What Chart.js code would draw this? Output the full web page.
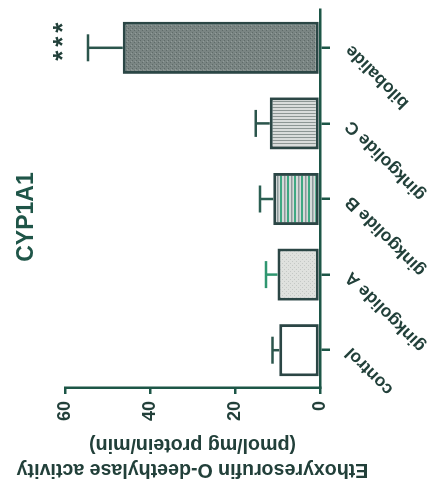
<!DOCTYPE html>
<html>
<head>
<meta charset="utf-8">
<script src="https://cdn.jsdelivr.net/npm/chart.js@4.4.1/dist/chart.umd.min.js"></script>
<style>
  html, body { margin: 0; padding: 0; background: #ffffff; overflow: hidden; }
  #wrap { position: relative; width: 435px; height: 486px; overflow: hidden; }
  /* the figure is laid out upright and turned a quarter turn counter-clockwise */
  #c { position: absolute; left: 0; top: 0; width: 486px; height: 435px;
       transform-origin: 0 0; transform: translateY(486px) rotate(-90deg); }
</style>
</head>
<body>
<div id="wrap"><canvas id="c" width="486" height="435"></canvas></div>
<script>
// EROD activity per treatment (mean and SEM, pmol/mg protein/min)
const categories = ['control', 'ginkgolide A', 'ginkgolide B', 'ginkgolide C', 'bilobalide'];
const activity = [9.6, 10.0, 11.0, 11.8, 46.4];
const activitySem = [1.6, 2.7, 3.1, 3.3, 8.2];
const significance = ['', '', '', '', '***'];
const valueTicks = [0, 20, 40, 60];
const chartTitle = 'CYP1A1';
const axisTitle = ['Ethoxyresorufin O-deethylase activity', '(pmol/mg protein/min)'];

const TEXT = '#22403a';
const AXIS = '#1d5647';
const EDGE = '#2b4645';

function tile(w, h, paint) {
  const t = document.createElement('canvas');
  t.width = w; t.height = h;
  const g = t.getContext('2d');
  paint(g);
  return g.createPattern(t, 'repeat');
}
// fine stipple for ginkgolide A
const stippleLight = tile(4, 4, g => {
  g.fillStyle = '#dfe1de'; g.fillRect(0, 0, 4, 4);
  g.fillStyle = '#c4c8c5'; g.fillRect(0, 0, 1, 1); g.fillRect(2, 2, 1, 1);
});
// close horizontal bands (green / grey) for ginkgolide B
const bandsB = tile(7, 7, g => {
  g.fillStyle = '#d6dad9'; g.fillRect(0, 0, 7, 7);
  g.fillStyle = '#3fa882'; g.fillRect(0, 0, 7, 2);
  g.fillStyle = '#8e9a9b'; g.fillRect(0, 4, 7, 1.5);
});
// fine vertical hatching for ginkgolide C
const hatchC = tile(3, 3, g => {
  g.fillStyle = '#d9dcdb'; g.fillRect(0, 0, 3, 3);
  g.fillStyle = '#8d9694'; g.fillRect(0, 0, 1, 3);
});
// dark stipple for bilobalide
const stippleDark = tile(4, 4, g => {
  g.fillStyle = '#7a8583'; g.fillRect(0, 0, 4, 4);
  g.fillStyle = '#5f6b69'; g.fillRect(1, 0, 1, 1); g.fillRect(3, 2, 1, 1);
  g.fillStyle = '#929c9a'; g.fillRect(0, 3, 1, 1);
});
const barFills = ['#ffffff', stippleLight, bandsB, hatchC, stippleDark];
const errorColors = ['#2b554c', '#2f9670', '#2b5f52', '#2b554c', '#2b554c'];

const errorBars = {
  id: 'errorBars',
  afterDatasetsDraw(chart) {
    const { ctx, scales: { y } } = chart;
    const meta = chart.getDatasetMeta(0);
    ctx.save();
    ctx.lineWidth = 2.5;
    meta.data.forEach((bar, i) => {
      const top = y.getPixelForValue(activity[i] + activitySem[i]);
      ctx.strokeStyle = errorColors[i];
      ctx.beginPath();
      ctx.moveTo(bar.x, bar.y);
      ctx.lineTo(bar.x, top);
      ctx.moveTo(bar.x - 13.5, top);
      ctx.lineTo(bar.x + 13.5, top);
      ctx.stroke();
      if (significance[i]) {
        ctx.fillStyle = TEXT;
        ctx.font = 'bold 26px "Liberation Sans", Arial, sans-serif';
        ctx.textAlign = 'center';
        ctx.textBaseline = 'alphabetic';
        const marks = significance[i].split('');
        marks.forEach((m, k) => {
          const mx = bar.x + 6 + (k - (marks.length - 1) / 2) * 14;
          ctx.fillText(m, mx, top - 33 + 16);
        });
      }
    });
    ctx.restore();
  }
};

const panelTitle = {
  id: 'panelTitle',
  afterDraw(chart) {
    const { ctx } = chart;
    ctx.save();
    ctx.fillStyle = '#1f5548';
    ctx.font = 'bold 23px "Liberation Sans", Arial, sans-serif';
    ctx.textAlign = 'center';
    ctx.textBaseline = 'middle';
    ctx.fillText(chartTitle, 269, 27);
    ctx.restore();
  }
};

Chart.defaults.font.family = '"Liberation Sans", Arial, sans-serif';
Chart.defaults.color = TEXT;

new Chart(document.getElementById('c'), {
  type: 'bar',
  data: {
    labels: categories,
    datasets: [{
      data: activity,
      backgroundColor: barFills,
      borderColor: EDGE,
      borderWidth: 3,
      borderSkipped: false,
      barPercentage: 0.69,
      categoryPercentage: 1.0
    }]
  },
  options: {
    responsive: false,
    animation: false,
    devicePixelRatio: 1,
    layout: { padding: { top: 65, right: 10, left: 0, bottom: 0 } },
    plugins: { legend: { display: false }, tooltip: { enabled: false } },
    scales: {
      x: {
        offset: true,
        grid: { display: true, drawOnChartArea: false, drawTicks: true, tickLength: 10,
                offset: false, color: AXIS, lineWidth: 2.5 },
        border: { display: true, color: AXIS, width: 2.5 },
        ticks: { minRotation: 45, maxRotation: 45, padding: 11, color: TEXT,
                 font: { size: 17.5, weight: 'bold' } },
        afterFit(s) { s.height = 115; }
      },
      y: {
        min: 0, max: 60,
        afterBuildTicks(s) { s.ticks = valueTicks.map(v => ({ value: v })); },
        grid: { display: true, drawOnChartArea: false, drawTicks: true, tickLength: 6,
                color: AXIS, lineWidth: 2.5 },
        border: { display: true, color: AXIS, width: 2.5 },
        ticks: { padding: 7, color: TEXT, font: { size: 18, weight: 'bold' } },
        title: { display: true, text: axisTitle, color: TEXT,
                 font: { size: 19.6, weight: 'bold', lineHeight: 1.27 },
                 padding: { top: 4, bottom: 0 } },
        afterFit(s) { s.width = 98; }
      }
    }
  },
  plugins: [errorBars, panelTitle]
});
</script>
</body>
</html>
